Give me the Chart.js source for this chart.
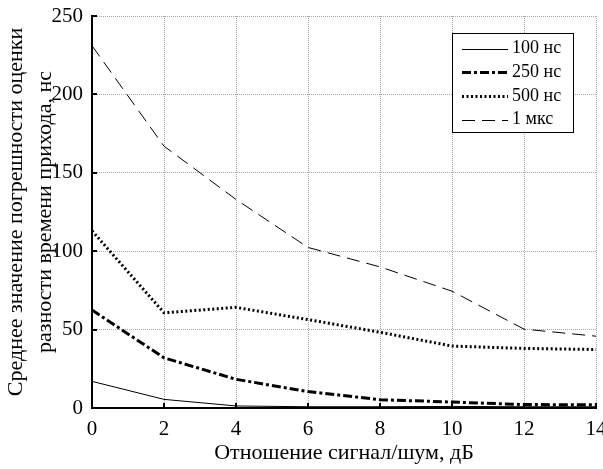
<!DOCTYPE html>
<html>
<head>
<meta charset="utf-8">
<script src="https://cdn.jsdelivr.net/npm/chart.js@4/dist/chart.umd.min.js"></script>
<style>
  html, body { margin: 0; padding: 0; background: #fff; }
  #wrap { width: 603px; height: 469px; }
</style>
</head>
<body>
<div id="wrap"><canvas id="c" width="603" height="469"></canvas></div>
<script>
// Отношение сигнал/шум, дБ
const snrDb = [0, 2, 4, 6, 8, 10, 12, 14];

// Среднее значение погрешности, нс — по длительности импульса
const err100ns = [17, 5.5, 1.3, 0.8, 0.8, 1.0, 0.8, 0.8];
const err250ns = [62.5, 32, 18.3, 10.5, 5.3, 3.8, 2.2, 2.0];
const err500ns = [113, 60.7, 64.2, 56.4, 48.3, 39.5, 38.0, 37.3];
const err1us   = [231, 167, 133, 102.4, 90, 74.5, 50.3, 45.8];

const seriesLabels = ['100 нс', '250 нс', '500 нс', '1 мкс'];
const xTitle = 'Отношение сигнал/шум, дБ';
const yTitle = ['Среднее значение погрешности оценки', 'разности времени прихода, нс'];

const FONT = '"Liberation Serif", "Times New Roman", serif';

function pts(ys) { return snrDb.map((x, i) => ({ x: x, y: ys[i] })); }

// Inward tick marks on the left and bottom axes
const innerTicks = {
  id: 'innerTicks',
  afterDraw(chart) {
    const { ctx, chartArea: a, scales } = chart;
    ctx.save();
    ctx.strokeStyle = '#000';
    ctx.lineWidth = 2;
    ctx.setLineDash([]);
    ctx.beginPath();
    scales.x.ticks.forEach(t => {
      const px = Math.round(scales.x.getPixelForValue(t.value));
      ctx.moveTo(px, a.bottom);
      ctx.lineTo(px, a.bottom - 5);
    });
    scales.y.ticks.forEach(t => {
      const py = Math.round(scales.y.getPixelForValue(t.value));
      ctx.moveTo(a.left, py);
      ctx.lineTo(a.left + 5, py);
    });
    ctx.stroke();
    ctx.restore();
  }
};

// Boxed legend inside the plot, upper right
const boxLegend = {
  id: 'boxLegend',
  afterDraw(chart) {
    const { ctx } = chart;
    const x0 = 452, y0 = 33, w = 121, h = 99;
    ctx.save();
    ctx.fillStyle = '#fff';
    ctx.fillRect(x0, y0, w, h);
    ctx.strokeStyle = '#000';
    ctx.lineWidth = 1;
    ctx.setLineDash([]);
    ctx.strokeRect(x0 + 0.5, y0 + 0.5, w, h);
    ctx.font = '18px ' + FONT;
    ctx.fillStyle = '#000';
    ctx.textBaseline = 'middle';
    ctx.textAlign = 'left';
    chart.data.datasets.forEach((ds, i) => {
      const yy = 48.5 + i * 23.7;
      const off = ds.borderWidth % 2 ? 0.5 : 0;
      ctx.beginPath();
      ctx.lineWidth = ds.borderWidth;
      ctx.setLineDash(ds.borderDash || []);
      ctx.moveTo(462, Math.round(yy) + off);
      ctx.lineTo(508, Math.round(yy) + off);
      ctx.stroke();
      ctx.setLineDash([]);
      ctx.fillText(ds.label, 512, yy);
    });
    ctx.restore();
  }
};

new Chart(document.getElementById('c'), {
  type: 'line',
  data: {
    datasets: [
      { label: seriesLabels[0], data: pts(err100ns), borderColor: '#000', borderWidth: 1, borderDash: [] },
      { label: seriesLabels[1], data: pts(err250ns), borderColor: '#000', borderWidth: 3, borderDash: [9, 3, 3, 3] },
      { label: seriesLabels[2], data: pts(err500ns), borderColor: '#000', borderWidth: 3, borderDash: [2, 2.5] },
      { label: seriesLabels[3], data: pts(err1us), borderColor: '#000', borderWidth: 1, borderDash: [13, 7] }
    ]
  },
  options: {
    responsive: false,
    animation: false,
    devicePixelRatio: 1,
    layout: { padding: { top: 16, right: 7, bottom: 0, left: 0 } },
    elements: { point: { radius: 0 }, line: { tension: 0, fill: false } },
    plugins: { legend: { display: false }, tooltip: { enabled: false } },
    scales: {
      x: {
        type: 'linear',
        min: 0, max: 14,
        ticks: { stepSize: 2, color: '#000', font: { family: FONT, size: 21 }, padding: 9, maxRotation: 0 },
        grid: { color: '#a8a8a8', lineWidth: 1, drawTicks: false },
        border: { display: true, color: '#000', width: 2, dash: [1, 1] },
        title: { display: true, text: xTitle, color: '#000', font: { family: FONT, size: 22 }, padding: { top: 0, bottom: 3 } },
        afterFit(s) { s.height = 61; s.paddingLeft = 0; s.paddingRight = 0; }
      },
      y: {
        min: 0, max: 250,
        ticks: { stepSize: 50, color: '#000', font: { family: FONT, size: 21 }, padding: 9 },
        grid: { color: '#a8a8a8', lineWidth: 1, drawTicks: false },
        border: { display: true, color: '#000', width: 2, dash: [1, 1] },
        title: { display: true, text: yTitle, color: '#000', font: { family: FONT, size: 22, lineHeight: 1.3 }, padding: { top: 2, bottom: 0 } },
        afterFit(s) { s.width = 92; s.paddingTop = 0; s.paddingBottom = 0; }
      }
    }
  },
  plugins: [innerTicks, boxLegend]
});
</script>
</body>
</html>
